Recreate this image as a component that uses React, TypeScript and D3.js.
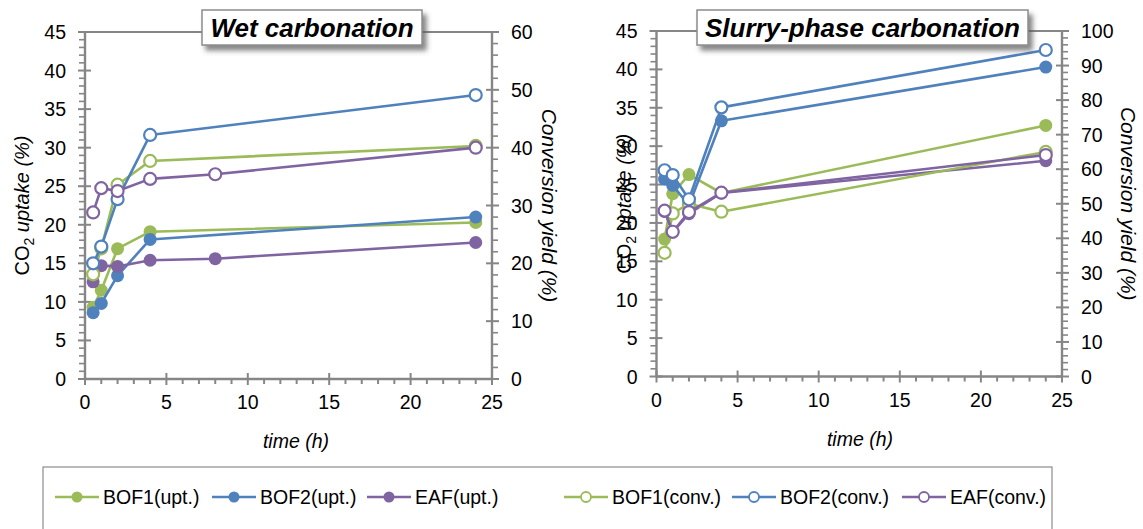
import React from 'react';
import * as d3 from 'd3';

// ---------- Data ----------
const WET_TIME = [0.5, 1, 2, 4, 24];
const WET_TIME_EAF = [0.5, 1, 2, 4, 8, 24];
const SLURRY_TIME = [0.5, 1, 2, 4, 24];

const wetBOF1Upt = [9.3, 11.5, 16.9, 19.1, 20.3];
const wetBOF2Upt = [8.6, 9.8, 13.4, 18.1, 21.0];
const wetEAFUpt = [12.6, 14.7, 14.6, 15.4, 15.6, 17.7];
const wetBOF1Conv = [18.1, 22.6, 33.6, 37.7, 40.3];
const wetBOF2Conv = [20.0, 22.9, 31.1, 42.2, 49.1];
const wetEAFConv = [28.8, 33.0, 32.5, 34.6, 35.4, 40.0];

const slurryBOF1Upt = [17.9, 23.8, 26.3, 23.9, 32.7];
const slurryBOF2Upt = [25.7, 24.9, 22.3, 33.3, 40.3];
const slurryEAFUpt = [21.5, 18.8, 21.2, 23.9, 28.1];
const slurryBOF1Conv = [35.8, 47.2, 50.0, 47.7, 65.0];
const slurryBOF2Conv = [59.7, 58.3, 51.3, 77.9, 94.5];
const slurryEAFConv = [48.0, 41.9, 47.6, 53.2, 64.1];

const LEGEND_LABELS = ['BOF1(upt.)', 'BOF2(upt.)', 'EAF(upt.)', 'BOF1(conv.)', 'BOF2(conv.)', 'EAF(conv.)'];
const X_TICKS = [0, 5, 10, 15, 20, 25];
const UPT_TICKS = [0, 5, 10, 15, 20, 25, 30, 35, 40, 45];

const GREEN = '#9BBB59';
const BLUE = '#4F81BD';
const PURPLE = '#8064A2';
const SERIES_COLORS = [GREEN, BLUE, PURPLE, GREEN, BLUE, PURPLE];
const AXIS = '#868686';
const FONT = "'Liberation Sans', Arial, sans-serif";
const TICK_FS = 19.5;

type Series = { x: number[]; y: number[]; color: string; conv: boolean };

const wetSeries: Series[] = [
  { x: WET_TIME, y: wetBOF1Upt, color: GREEN, conv: false },
  { x: WET_TIME, y: wetBOF2Upt, color: BLUE, conv: false },
  { x: WET_TIME_EAF, y: wetEAFUpt, color: PURPLE, conv: false },
  { x: WET_TIME, y: wetBOF1Conv, color: GREEN, conv: true },
  { x: WET_TIME, y: wetBOF2Conv, color: BLUE, conv: true },
  { x: WET_TIME_EAF, y: wetEAFConv, color: PURPLE, conv: true },
];
const slurrySeries: Series[] = [
  { x: SLURRY_TIME, y: slurryBOF1Upt, color: GREEN, conv: false },
  { x: SLURRY_TIME, y: slurryBOF2Upt, color: BLUE, conv: false },
  { x: SLURRY_TIME, y: slurryEAFUpt, color: PURPLE, conv: false },
  { x: SLURRY_TIME, y: slurryBOF1Conv, color: GREEN, conv: true },
  { x: SLURRY_TIME, y: slurryBOF2Conv, color: BLUE, conv: true },
  { x: SLURRY_TIME, y: slurryEAFConv, color: PURPLE, conv: true },
];

type PanelProps = {
  left: number; right: number; top: number; bottom: number;
  convMax: number; title: string; boxX0: number; boxX1: number;
  series: Series[]; leftTitleX: number; rightTitleX: number; timeX: number;
};

function Panel(p: PanelProps) {
  const x = d3.scaleLinear().domain([0, 25]).range([p.left, p.right]);
  const yU = d3.scaleLinear().domain([0, 45]).range([p.bottom, p.top]);
  const yC = d3.scaleLinear().domain([0, p.convMax]).range([p.bottom, p.top]);
  const convTicks = d3.range(0, p.convMax + 1, 10);
  const xMinor = d3.range(0, 26, 1).filter((v) => v % 5 !== 0);
  const uMinor = d3.range(0, 46, 1).filter((v) => v % 5 !== 0);
  const cMinor = d3.range(0, p.convMax + 1, 2).filter((v) => v % 10 !== 0);
  const midY = (p.top + p.bottom) / 2;
  const line = (s: Series) =>
    d3.line<number>()
      .x((_, i) => x(s.x[i]))
      .y((v) => (s.conv ? yC(v) : yU(v)))(s.y) || '';

  return (
    <g>
      {/* plot frame */}
      <line x1={p.left} x2={p.right} y1={p.top} y2={p.top} stroke={AXIS} strokeWidth={2} />
      <line x1={p.left} x2={p.left} y1={p.top} y2={p.bottom} stroke={AXIS} strokeWidth={2.4} />
      <line x1={p.right} x2={p.right} y1={p.top} y2={p.bottom} stroke={AXIS} strokeWidth={2.4} />
      <line x1={p.left} x2={p.right} y1={p.bottom} y2={p.bottom} stroke={AXIS} strokeWidth={2.4} />
      {/* x ticks */}
      {X_TICKS.map((t) => (
        <line key={'xt' + t} x1={x(t)} x2={x(t)} y1={p.bottom - 6} y2={p.bottom + 6} stroke={AXIS} strokeWidth={2} />
      ))}
      {xMinor.map((t) => (
        <line key={'xm' + t} x1={x(t)} x2={x(t)} y1={p.bottom} y2={p.bottom + 5} stroke={AXIS} strokeWidth={2} />
      ))}
      {X_TICKS.map((t) => (
        <text key={'xl' + t} x={x(t)} y={p.bottom + 30} textAnchor="middle" fontSize={TICK_FS} fill="#000">{t}</text>
      ))}
      {/* left uptake axis */}
      {UPT_TICKS.map((t) => (
        <line key={'ut' + t} x1={p.left - 7} x2={p.left + 6} y1={yU(t)} y2={yU(t)} stroke={AXIS} strokeWidth={2} />
      ))}
      {uMinor.map((t) => (
        <line key={'um' + t} x1={p.left - 6} x2={p.left} y1={yU(t)} y2={yU(t)} stroke={AXIS} strokeWidth={1.6} />
      ))}
      {UPT_TICKS.map((t) => (
        <text key={'ul' + t} x={p.left - 19} y={yU(t) + 7} textAnchor="end" fontSize={TICK_FS} fill="#000">{t}</text>
      ))}
      {/* right conversion axis */}
      {convTicks.map((t) => (
        <line key={'ct' + t} x1={p.right - 6} x2={p.right + 7} y1={yC(t)} y2={yC(t)} stroke={AXIS} strokeWidth={2} />
      ))}
      {cMinor.map((t) => (
        <line key={'cm' + t} x1={p.right} x2={p.right + 6} y1={yC(t)} y2={yC(t)} stroke={AXIS} strokeWidth={1.6} />
      ))}
      {convTicks.map((t) => (
        <text key={'cl' + t} x={p.right + 19} y={yC(t) + 7} textAnchor="start" fontSize={TICK_FS} fill="#000">{t}</text>
      ))}
      {/* axis titles */}
      <text transform={`translate(${p.leftTitleX},${midY}) rotate(-90)`} textAnchor="middle" fontSize={20} fill="#000">
        CO<tspan fontSize={14} dy={5}>2</tspan>
        <tspan dy={-5} fontStyle="italic"> uptake (%)</tspan>
      </text>
      <text transform={`translate(${p.rightTitleX},${midY}) rotate(90)`} textAnchor="middle" fontSize={21} fontStyle="italic" fill="#000">
        Conversion yield (%)
      </text>
      <text x={p.timeX} y={p.bottom + 69} textAnchor="middle" fontSize={TICK_FS} fontStyle="italic" fill="#000">time (h)</text>
      {/* series */}
      {p.series.map((s, i) => (
        <g key={'s' + i}>
          <path d={line(s)} fill="none" stroke={s.color} strokeWidth={2.6} strokeLinejoin="round" />
          {s.y.map((v, j) =>
            s.conv ? (
              <circle key={j} cx={x(s.x[j])} cy={yC(v)} r={6} fill="#fff" stroke={s.color} strokeWidth={2.2} />
            ) : (
              <circle key={j} cx={x(s.x[j])} cy={yU(v)} r={6.5} fill={s.color} />
            )
          )}
        </g>
      ))}
      {/* title box */}
      <rect x={p.boxX0} y={10} width={p.boxX1 - p.boxX0} height={35} fill="#fff" stroke="#8c8c8c" strokeWidth={1.5} filter="url(#shadow)" />
      <text x={(p.boxX0 + p.boxX1) / 2} y={37} textAnchor="middle" fontSize={26} fontWeight="bold" fontStyle="italic" fill="#000">{p.title}</text>
    </g>
  );
}

function Legend() {
  // layout: start x of each legend entry (line sample), as in the original legend
  const entryX = [55, 212, 367, 564, 732, 902];
  const lineLen = 44;
  const cy = 497;
  return (
    <g>
      <rect x={43} y={467} width={1009} height={80} fill="#fff" stroke="#8c8c8c" strokeWidth={1.2} />
      {LEGEND_LABELS.map((label, i) => {
        const x0 = entryX[i];
        const color = SERIES_COLORS[i];
        const open = i >= 3;
        return (
          <g key={label}>
            <line x1={x0} x2={x0 + lineLen} y1={cy} y2={cy} stroke={color} strokeWidth={2.6} />
            {open ? (
              <circle cx={x0 + lineLen / 2} cy={cy} r={5} fill="#fff" stroke={color} strokeWidth={1.8} />
            ) : (
              <circle cx={x0 + lineLen / 2} cy={cy} r={5.5} fill={color} />
            )}
            <text x={x0 + lineLen + 4} y={cy + 7} fontSize={19.5} fill="#000">{label}</text>
          </g>
        );
      })}
    </g>
  );
}

export default function App() {
  return (
    <svg width={1143} height={529} style={{ position: 'absolute', left: 0, top: 0, background: '#fff' }} fontFamily={FONT}>
      <defs>
        <filter id="shadow" x="-10%" y="-30%" width="130%" height="180%">
          <feDropShadow dx={4} dy={5} stdDeviation={2.5} floodColor="#555" floodOpacity={0.7} />
        </filter>
      </defs>
      <rect x={0} y={0} width={1143} height={529} fill="#fff" />
      <Panel left={85} right={492} top={32} bottom={379} convMax={60} title="Wet carbonation"
        boxX0={202} boxX1={422} series={wetSeries} leftTitleX={29} rightTitleX={542} timeX={296} />
      <Panel left={656.5} right={1062} top={31} bottom={376.5} convMax={100} title="Slurry-phase carbonation"
        boxX0={697} boxX1={1028} series={slurrySeries} leftTitleX={631} rightTitleX={1121} timeX={860} />
      <Legend />
    </svg>
  );
}
